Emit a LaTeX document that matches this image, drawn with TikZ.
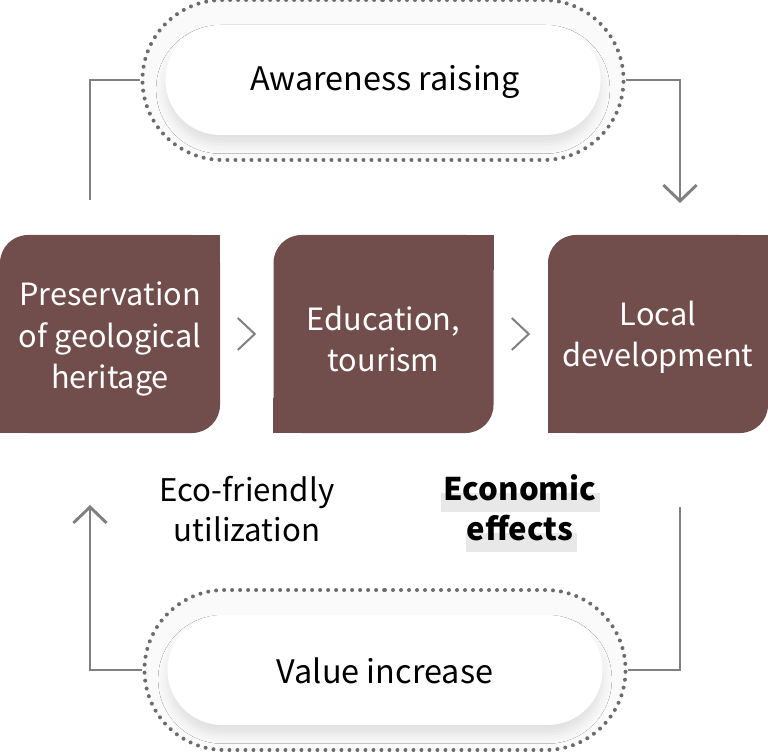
\documentclass[tikz,border=0pt]{standalone}
\usepackage{fontspec}
\setmainfont{Noto Sans CJK KR}
\usetikzlibrary{arrows.meta,shapes.misc,shadows.blur,calc}
\definecolor{boxc}{HTML}{714E4B}
\definecolor{connc}{HTML}{808080}
\definecolor{dotc}{HTML}{6C6C6C}
\definecolor{hlc}{HTML}{E8E8E8}
\begin{document}
\begin{tikzpicture}[x=0.75pt,y=-0.75pt,
  conn/.style={draw=connc,line width=2.2pt},
  tipped/.style={-{Straight Barb[length=12pt,width=25pt]}},
  outerpill/.style={rounded rectangle, draw=dotc, line width=3pt, dash pattern=on 0pt off 6pt, line cap=round, fill=black!2, minimum width=367.5pt, minimum height=120pt},
  innerpill/.style={rounded rectangle, fill=white, minimum width=333pt, minimum height=82.5pt, blur shadow={shadow xshift=0pt, shadow yshift=-7pt, shadow blur radius=7pt, shadow opacity=10}},
  pilltext/.style={font=\fontsize{24.3}{29}\selectfont, inner sep=0pt},
  box/.style={fill=boxc, rounded corners=21pt, minimum width=165pt, minimum height=148.5pt, inner sep=0pt},
  boxtext/.style={text=white, align=center, font=\fontsize{23}{31}\selectfont, inner sep=0pt},
  lbl/.style={align=center, font=\fontsize{23.4}{30}\selectfont, inner sep=0pt},
  chev/.style={draw=connc, line width=1.5pt}
]
\useasboundingbox (0,0) rectangle (768,752);

% top pill
\node[outerpill] (topout) at (383,80) {};
\node[innerpill] (topin) at (383,80) {};
\node[pilltext] (toptext) at (385,82) {Awareness raising};

% bottom pill
\node[outerpill] (botout) at (385,670) {};
\node[innerpill] (botin) at (385,670) {};
\node[pilltext] (bottext) at (385,671) {Value increase};

% boxes
\node[box] (b1) at (110,334) {};
\node[box] (b2) at (383.5,334) {};
\node[box] (b3) at (658,334) {};
\foreach \b in {b1,b2,b3}{
  \fill[boxc] (\b.north east) rectangle ++(-35,35);
  \fill[boxc] (\b.south west) rectangle ++(35,-35);
}
\node[boxtext] (t1) at (110,339) {Preservation\\of geological\\heritage};
\node[boxtext] (t2) at (383.5,339) {Education,\\tourism};
\node[boxtext] (t3) at (658,337) {Local\\development};

% chevrons between boxes
\coordinate (k1) at ($(b1.east)!0.5!(b2.west)$);
\coordinate (k2) at ($(b2.east)!0.5!(b3.west)$);
\draw[chev] ($(k1)+(-9,-16)$) -- ($(k1)+(8,0)$) -- ($(k1)+(-9,16)$);
\draw[chev] ($(k2)+(-9,-16)$) -- ($(k2)+(8,0)$) -- ($(k2)+(-9,16)$);

% labels
\fill[hlc] (441,493) rectangle (600,512);
\fill[hlc] (466,533) rectangle (577,552);
\node[lbl] (eco) at (247,509) {Eco-friendly\\utilization};
\node[lbl, font=\fontsize{23.4}{30}\selectfont\bfseries] (econ) at (520,508) {Economic\\effects};

% connectors
\coordinate (tl) at (90,200);
\coordinate (tr) at (680,203);
\coordinate (bl) at (90,505);
\coordinate (br) at (680,507);
\draw[conn] (tl) |- (topout.west);
\draw[conn,tipped] (topout.east) -| (tr);
\draw[conn,tipped] (botout.west) -| (bl);
\draw[conn] (br) |- (botout.east);
\end{tikzpicture}
\end{document}
